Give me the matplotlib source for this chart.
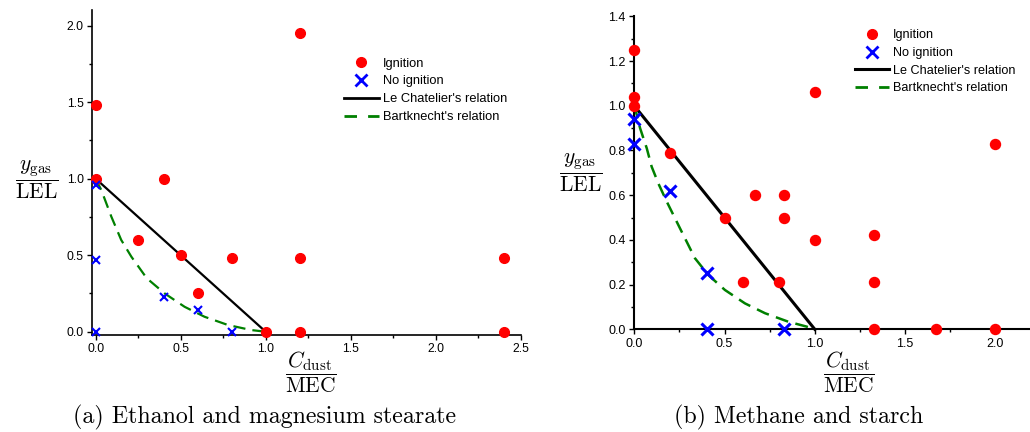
import matplotlib
matplotlib.use("Agg")
import matplotlib.pyplot as plt
from matplotlib.lines import Line2D
from matplotlib.ticker import MultipleLocator, FormatStrFormatter

plt.rcParams['font.family'] = ['Liberation Sans', 'DejaVu Sans']
plt.rcParams['mathtext.fontset'] = 'cm'

# ---------------- Data: (a) Ethanol and magnesium stearate ----------------
a_ign_x = [0.0, 0.0, 0.4, 1.2, 0.25, 0.5, 0.8, 1.2, 2.4, 0.6, 1.0, 1.2, 2.4]
a_ign_y = [1.48, 1.0, 1.0, 1.95, 0.6, 0.5, 0.48, 0.48, 0.48, 0.25, 0.0, 0.0, 0.0]
a_noign_x = [0.0, 0.0, 0.0, 0.4, 0.6, 0.8]
a_noign_y = [0.96, 0.47, 0.0, 0.23, 0.14, 0.0]
a_lech_x = [0.0, 1.0]
a_lech_y = [1.0, 0.0]
a_bart_x = [0.0, 0.033, 0.092, 0.15, 0.21, 0.30, 0.406, 0.523, 0.64, 0.778, 0.915, 1.0]
a_bart_y = [1.0, 0.926, 0.752, 0.60, 0.49, 0.35, 0.25, 0.163, 0.098, 0.044, 0.011, 0.0]

# ---------------- Data: (b) Methane and starch ----------------
b_ign_x = [0.0, 0.0, 0.0, 0.2, 1.0, 2.0, 0.67, 0.83, 0.5, 0.83, 1.0, 1.33,
           0.6, 0.8, 1.33, 1.33, 1.67, 2.0]
b_ign_y = [1.25, 1.04, 1.0, 0.79, 1.06, 0.83, 0.6, 0.6, 0.5, 0.5, 0.4, 0.42,
           0.21, 0.21, 0.21, 0.0, 0.0, 0.0]
b_noign_x = [0.0, 0.0, 0.2, 0.4, 0.4, 0.83]
b_noign_y = [0.94, 0.83, 0.62, 0.25, 0.0, 0.0]
b_lech_x = [0.0, 1.0]
b_lech_y = [1.0, 0.0]
b_bart_x = [0.0, 0.004, 0.032, 0.069, 0.096, 0.133, 0.18, 0.253, 0.336, 0.41,
            0.502, 0.613, 0.724, 0.853, 0.955, 1.0]
b_bart_y = [1.0, 0.99, 0.90, 0.81, 0.728, 0.653, 0.571, 0.452, 0.318, 0.243,
            0.176, 0.116, 0.072, 0.034, 0.012, 0.0]

legend_labels = ['Ignition', 'No ignition', "Le Chatelier's relation", "Bartknecht's relation"]
captions = ['(a) Ethanol and magnesium stearate', '(b) Methane and starch']

W, H = 1030, 432
fig = plt.figure(figsize=(W / 100, H / 100), dpi=100)

RED = '#ff0000'
BLUE = '#0000ff'
GREEN = '#008000'


def setup(ax, xlim, ylim, xmaj, xmin, ymaj, ymin, fs, spw):
    ax.set_xlim(*xlim)
    ax.set_ylim(*ylim)
    for s in ['top', 'right']:
        ax.spines[s].set_visible(False)
    for s in ['left', 'bottom']:
        ax.spines[s].set_linewidth(spw)
    ax.xaxis.set_major_locator(MultipleLocator(xmaj))
    ax.xaxis.set_minor_locator(MultipleLocator(xmin))
    ax.yaxis.set_major_locator(MultipleLocator(ymaj))
    ax.yaxis.set_minor_locator(MultipleLocator(ymin))
    ax.xaxis.set_major_formatter(FormatStrFormatter('%.1f'))
    ax.yaxis.set_major_formatter(FormatStrFormatter('%.1f'))
    ax.tick_params(which='major', direction='out', length=3.6, width=1.0,
                   labelsize=fs, pad=2.5)
    ax.tick_params(which='minor', direction='out', length=2.2, width=1.0)


# ---------------- Panel (a) ----------------
axA = fig.add_axes([92.3 / W, 1 - 334.8 / H, (520.7 - 92.3) / W, (334.8 - 10.4) / H])
setup(axA, (-0.02, 2.5), (-0.02, 2.1), 0.5, 0.25, 0.5, 0.25, 8.8, 1.2)
axA.plot(a_lech_x, a_lech_y, color='black', lw=1.6, clip_on=False, zorder=2)
axA.plot(a_bart_x, a_bart_y, color=GREEN, lw=1.6, dashes=(5.5, 3.2), clip_on=False, zorder=2)
axA.plot(a_ign_x, a_ign_y, 'o', color=RED, ms=7.0, mec=RED, clip_on=False, zorder=3)
axA.plot(a_noign_x, a_noign_y, 'x', color=BLUE, ms=5.8, mew=1.5, clip_on=False, zorder=3)

# ---------------- Panel (b) ----------------
axB = fig.add_axes([634.3 / W, 1 - 329.3 / H, (1031.4 - 634.3) / W, (329.3 - 16.4) / H])
setup(axB, (0.0, 2.2), (0.0, 1.4), 0.5, 0.25, 0.2, 0.1, 9.0, 1.5)
axB.plot(b_lech_x, b_lech_y, color='black', lw=2.2, clip_on=False, zorder=2)
axB.plot(b_bart_x, b_bart_y, color=GREEN, lw=1.8, dashes=(5.2, 3.0), clip_on=False, zorder=2)
axB.plot(b_ign_x, b_ign_y, 'o', color=RED, ms=7.2, mec=RED, clip_on=False, zorder=3)
axB.plot(b_noign_x, b_noign_y, 'x', color=BLUE, ms=8.9, mew=2.2, clip_on=False, zorder=3)


def legend(ax, anchor, fs, msx, mewx, lwl, lwd):
    handles = [
        Line2D([], [], ls='none', marker='o', color=RED, ms=7.0),
        Line2D([], [], ls='none', marker='x', color=BLUE, ms=msx, mew=mewx),
        Line2D([], [], color='black', lw=lwl),
        Line2D([], [], color=GREEN, lw=lwd, dashes=(4.5, 4.0)),
    ]
    ax.legend(handles, legend_labels, loc='upper left', bbox_to_anchor=anchor,
              bbox_transform=fig.transFigure, frameon=False, fontsize=fs,
              handlelength=2.7, handletextpad=0.3, labelspacing=0.45,
              borderpad=0, borderaxespad=0)


legend(axA, (344 / W, 1 - 57.5 / H), 9.3, 8.0, 2.0, 2.0, 2.0)
legend(axB, (855 / W, 1 - 29.4 / H), 9.1, 8.0, 2.0, 2.2, 2.0)

# ---------------- Axis labels (fractions) ----------------
ylab = r'$\dfrac{y_{\mathrm{gas}}}{\mathrm{LEL}}$'
xlab = r'$\dfrac{C_{\mathrm{dust}}}{\mathrm{MEC}}$'
lab_fs = 15.5
fig.text(36.5 / W, 1 - 180.3 / H, ylab, ha='center', va='center', fontsize=lab_fs)
fig.text(581 / W, 1 - 173.3 / H, ylab, ha='center', va='center', fontsize=lab_fs)
fig.text(311 / W, 1 - 372.7 / H, xlab, ha='center', va='center', fontsize=lab_fs)
fig.text(849 / W, 1 - 372.7 / H, xlab, ha='center', va='center', fontsize=lab_fs)

# ---------------- Captions ----------------
fig.text(265 / W, 1 - 417 / H, captions[0], ha='center', va='center',
         fontsize=17.2, family='cmr10')
fig.text(799 / W, 1 - 417 / H, captions[1], ha='center', va='center',
         fontsize=17.2, family='cmr10')

fig.savefig('out.png', dpi=100)
